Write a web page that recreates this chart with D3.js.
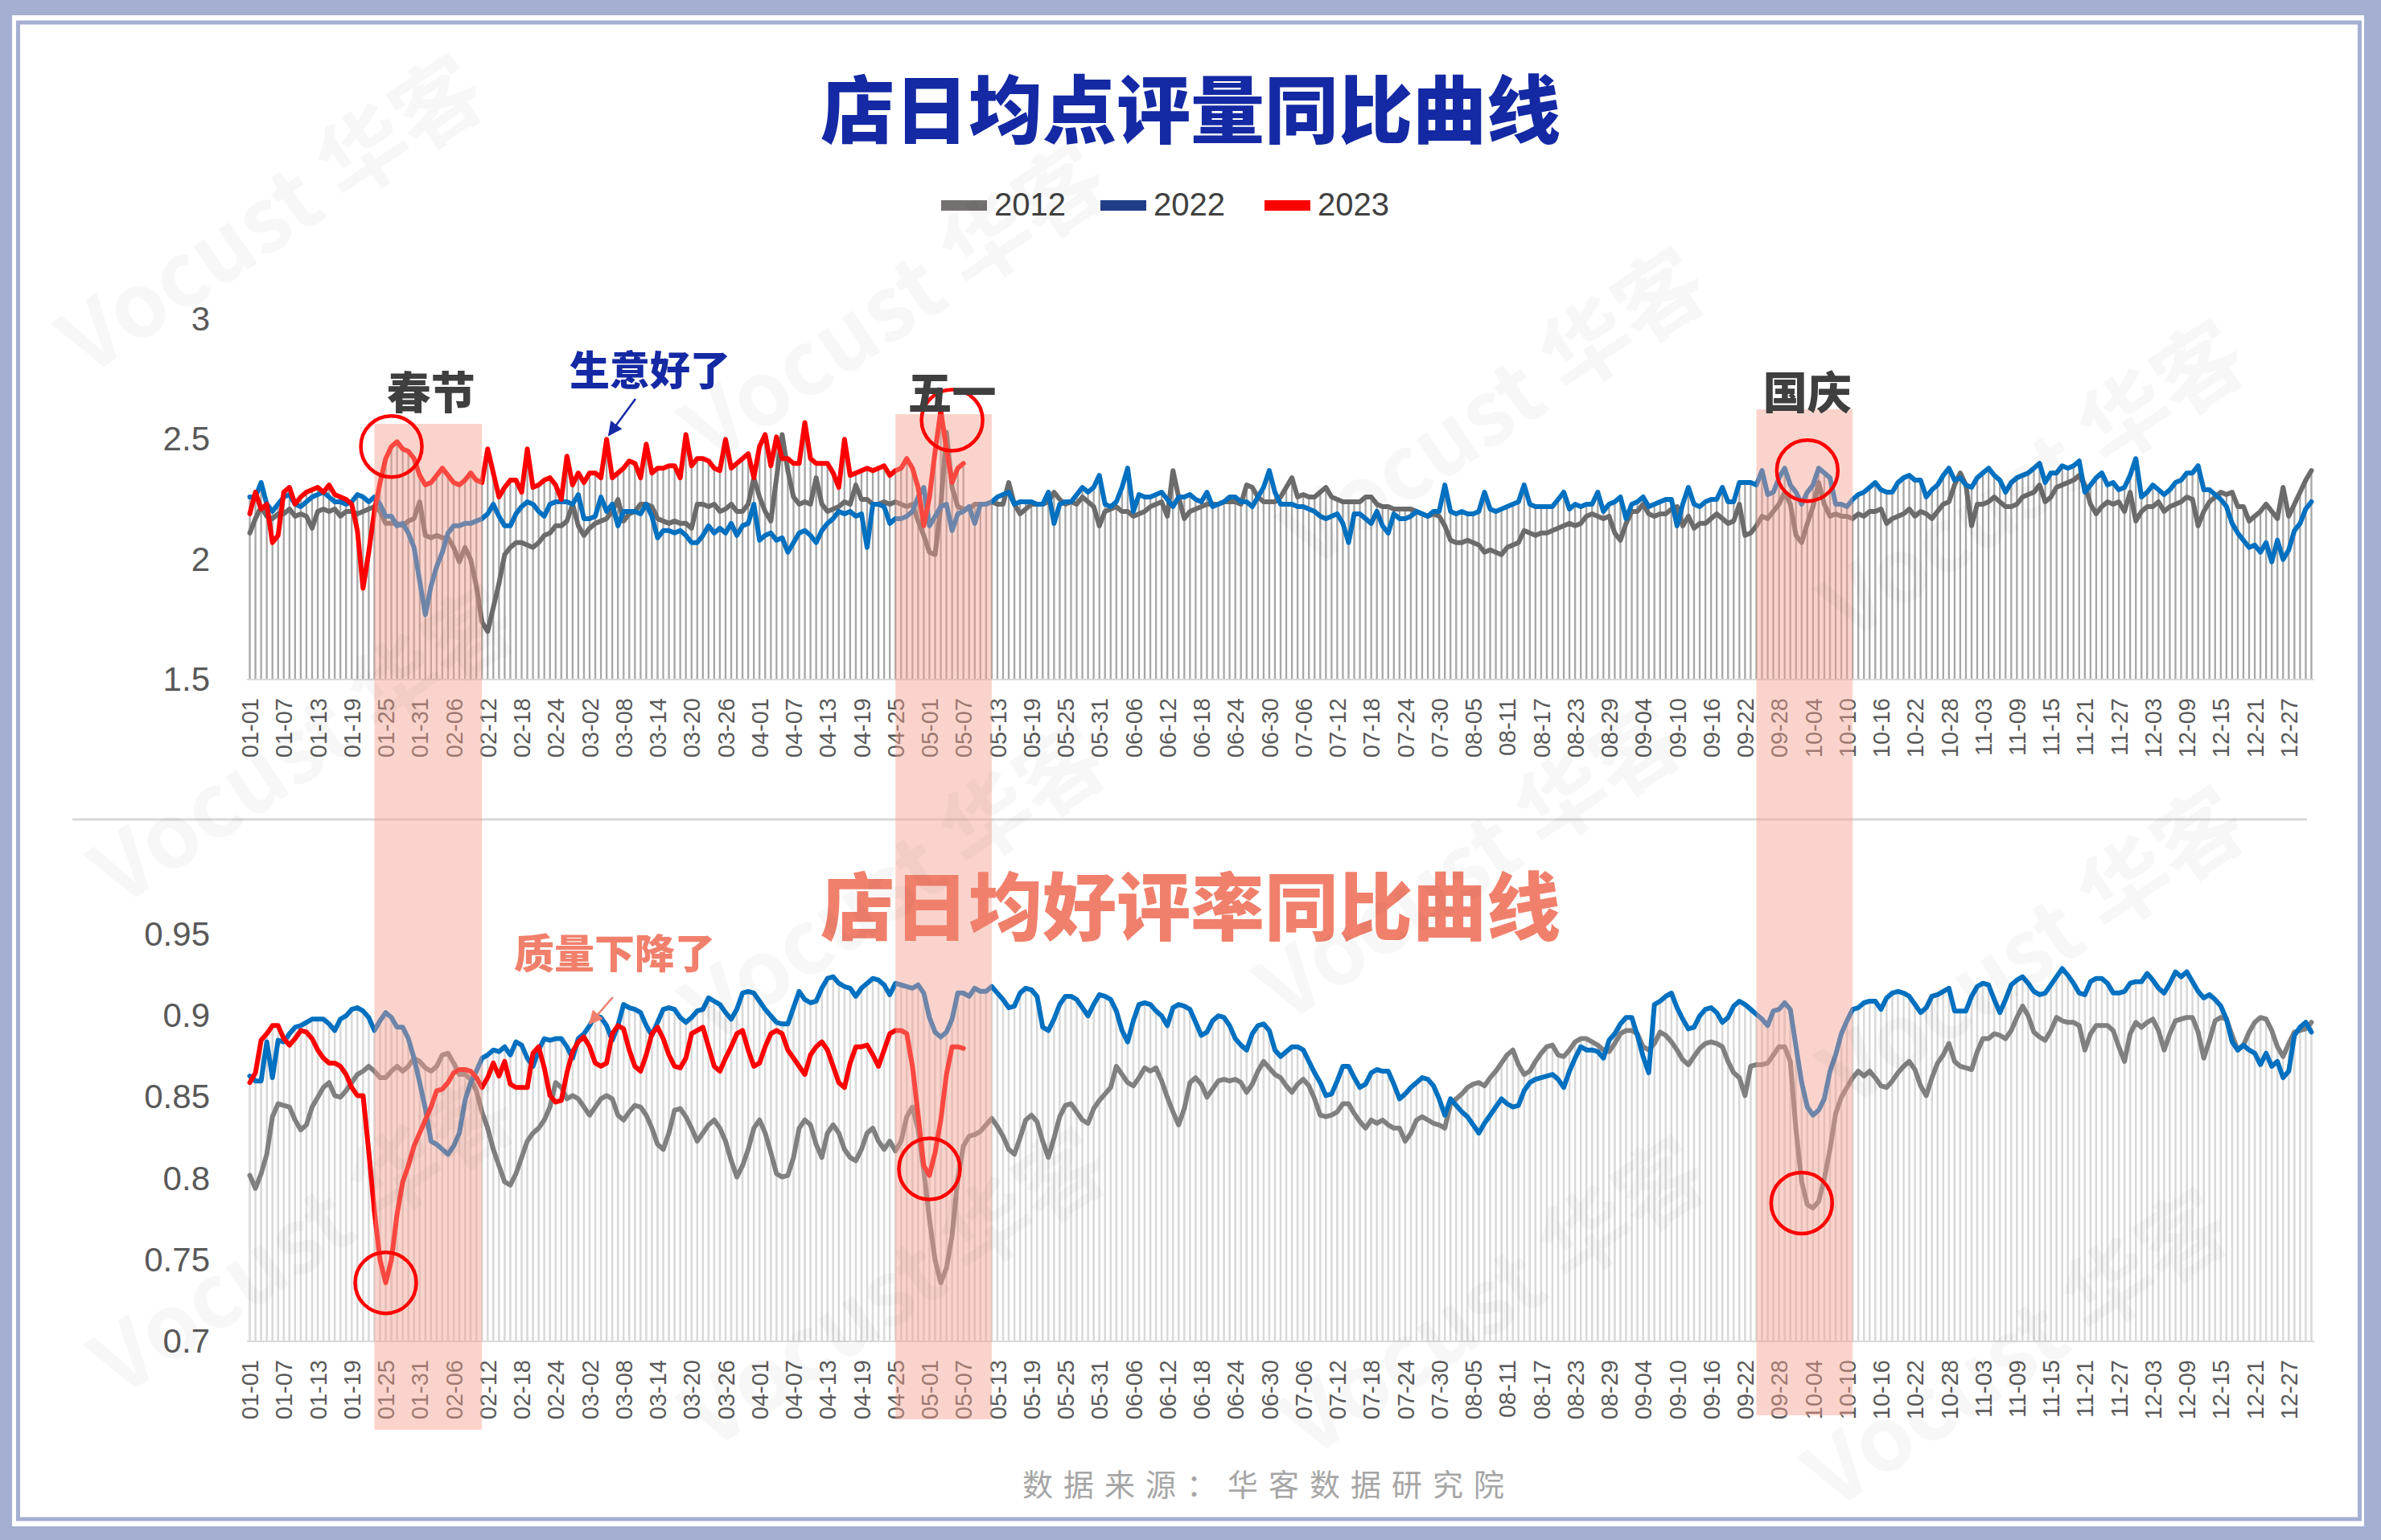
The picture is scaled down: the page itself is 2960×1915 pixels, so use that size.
<!DOCTYPE html>
<html>
<head>
<meta charset="utf-8">
<script src="https://cdn.jsdelivr.net/npm/d3@7"></script>
<style>
  html, body { margin: 0; padding: 0; background: #fff; }
  svg { display: block; }
</style>
</head>
<body>
<svg id="chart" width="2960" height="1915"></svg>
<script>
// ---- data ----
const seriesNames = ['2012', '2022', '2023'];

// 店日均点评量 (top panel)
const reviews2012 = [
  2.11,2.17,2.22,2.18,2.17,2.19,2.19,2.21,2.18,2.19, 2.18,2.13,2.20,2.21,2.20,2.21,2.18,2.20,2.20,2.19,
  2.20,2.21,2.22,2.20,2.15,2.15,2.15,2.14,2.16,2.17, 2.24,2.10,2.09,2.10,2.09,2.09,2.05,1.99,2.05,2.00,
  1.89,1.74,1.70,1.80,1.90,2.02,2.05,2.07,2.07,2.06, 2.05,2.07,2.10,2.11,2.14,2.14,2.16,2.23,2.14,2.10,
  2.13,2.15,2.16,2.17,2.20,2.25,2.16,2.19,2.20,2.23, 2.23,2.22,2.17,2.16,2.15,2.16,2.15,2.15,2.13,2.23,
  2.23,2.22,2.23,2.20,2.21,2.23,2.20,2.20,2.23,2.34, 2.26,2.20,2.16,2.34,2.52,2.37,2.26,2.23,2.24,2.23,
  2.34,2.23,2.20,2.21,2.22,2.24,2.23,2.31,2.25,2.25, 2.23,2.23,2.24,2.23,2.24,2.23,2.22,2.23,2.16,2.10,
  2.03,2.02,2.22,2.53,2.30,2.22,2.21,2.21,2.23,2.23, 2.23,2.24,2.23,2.23,2.32,2.23,2.19,2.21,2.23,2.23,
  2.23,2.24,2.28,2.25,2.23,2.24,2.23,2.26,2.24,2.22, 2.14,2.20,2.21,2.22,2.20,2.20,2.18,2.19,2.20,2.22,
  2.23,2.24,2.18,2.37,2.26,2.17,2.20,2.21,2.22,2.23, 2.23,2.23,2.24,2.24,2.24,2.23,2.31,2.30,2.26,2.24,
  2.24,2.24,2.26,2.30,2.34,2.26,2.27,2.26,2.26,2.28, 2.30,2.26,2.25,2.24,2.24,2.24,2.24,2.26,2.26,2.23,
  2.22,2.22,2.21,2.21,2.21,2.21,2.20,2.19,2.18,2.19, 2.18,2.14,2.08,2.07,2.07,2.08,2.07,2.06,2.03,2.04,
  2.03,2.02,2.05,2.06,2.07,2.12,2.11,2.10,2.11,2.11, 2.12,2.13,2.14,2.15,2.14,2.15,2.18,2.19,2.18,2.17,
  2.18,2.11,2.08,2.15,2.20,2.20,2.23,2.19,2.18,2.19, 2.19,2.21,2.22,2.14,2.18,2.13,2.15,2.15,2.17,2.19,
  2.17,2.15,2.16,2.23,2.10,2.11,2.14,2.18,2.17,2.20, 2.23,2.28,2.23,2.10,2.07,2.15,2.22,2.32,2.23,2.18,
  2.19,2.18,2.18,2.17,2.19,2.18,2.20,2.20,2.21,2.15, 2.17,2.18,2.19,2.21,2.18,2.20,2.19,2.17,2.20,2.23,
  2.24,2.31,2.36,2.31,2.14,2.23,2.23,2.24,2.26,2.24, 2.22,2.22,2.23,2.26,2.27,2.28,2.31,2.24,2.26,2.30,
  2.31,2.32,2.33,2.35,2.31,2.23,2.19,2.22,2.24,2.23, 2.24,2.20,2.28,2.16,2.20,2.22,2.22,2.24,2.20,2.22,
  2.23,2.24,2.26,2.25,2.14,2.20,2.24,2.26,2.28,2.27, 2.28,2.22,2.22,2.16,2.18,2.20,2.23,2.20,2.17,2.30,
  2.18,2.23,2.28,2.33,2.37
];
const reviews2022 = [
  2.26,2.26,2.32,2.23,2.20,2.23,2.26,2.27,2.23,2.22, 2.24,2.26,2.27,2.28,2.26,2.24,2.24,2.23,2.24,2.27,
  2.26,2.24,2.26,2.23,2.18,2.18,2.14,2.15,2.11,2.05, 1.91,1.77,1.89,1.97,2.03,2.11,2.14,2.14,2.15,2.15,
  2.16,2.17,2.19,2.23,2.18,2.14,2.14,2.19,2.22,2.24, 2.23,2.20,2.18,2.23,2.24,2.24,2.24,2.23,2.27,2.17,
  2.17,2.18,2.26,2.20,2.23,2.14,2.20,2.20,2.20,2.19, 2.23,2.18,2.09,2.12,2.12,2.11,2.12,2.10,2.07,2.07,
  2.10,2.14,2.11,2.13,2.11,2.15,2.10,2.14,2.15,2.23, 2.08,2.10,2.11,2.08,2.09,2.03,2.07,2.11,2.12,2.10,
  2.07,2.12,2.15,2.17,2.20,2.19,2.20,2.18,2.19,2.05, 2.23,2.23,2.22,2.15,2.17,2.17,2.18,2.20,2.26,2.30,
  2.14,2.18,2.22,2.23,2.12,2.19,2.20,2.22,2.15,2.23, 2.23,2.24,2.26,2.27,2.28,2.23,2.24,2.24,2.24,2.23,
  2.23,2.28,2.15,2.23,2.24,2.24,2.27,2.30,2.28,2.30, 2.35,2.23,2.22,2.24,2.30,2.38,2.20,2.27,2.26,2.26,
  2.27,2.28,2.25,2.22,2.26,2.26,2.27,2.25,2.24,2.28, 2.22,2.23,2.24,2.26,2.26,2.24,2.24,2.22,2.26,2.30,
  2.37,2.28,2.23,2.23,2.23,2.22,2.22,2.21,2.20,2.18, 2.17,2.18,2.19,2.15,2.07,2.19,2.19,2.17,2.15,2.20,
  2.14,2.11,2.19,2.17,2.17,2.18,2.20,2.19,2.18,2.20, 2.20,2.31,2.20,2.19,2.20,2.19,2.19,2.20,2.28,2.21,
  2.20,2.21,2.22,2.23,2.24,2.31,2.23,2.22,2.22,2.22, 2.22,2.25,2.28,2.21,2.23,2.22,2.23,2.23,2.28,2.20,
  2.23,2.24,2.26,2.17,2.23,2.24,2.26,2.22,2.23,2.24, 2.25,2.25,2.14,2.23,2.30,2.23,2.22,2.24,2.25,2.25,
  2.30,2.24,2.24,2.32,2.32,2.32,2.31,2.37,2.27,2.28, 2.34,2.38,2.31,2.28,2.23,2.28,2.31,2.38,2.36,2.34,
  2.23,2.23,2.22,2.25,2.27,2.28,2.30,2.32,2.29,2.28, 2.28,2.32,2.34,2.35,2.33,2.33,2.26,2.29,2.31,2.35,
  2.38,2.33,2.34,2.31,2.30,2.34,2.36,2.38,2.35,2.33, 2.28,2.32,2.34,2.35,2.36,2.38,2.40,2.32,2.36,2.36,
  2.39,2.38,2.39,2.41,2.28,2.31,2.34,2.36,2.31,2.32, 2.29,2.30,2.35,2.42,2.26,2.28,2.31,2.29,2.27,2.29,
  2.32,2.33,2.36,2.36,2.39,2.29,2.29,2.27,2.25,2.22, 2.15,2.11,2.08,2.05,2.06,2.03,2.07,1.99,2.08,2.00,
  2.04,2.12,2.15,2.21,2.24
];
const reviews2023 = [
  2.19,2.28,2.21,2.23,2.07,2.10,2.28,2.30,2.23,2.26, 2.28,2.29,2.30,2.28,2.31,2.27,2.26,2.25,2.23,2.12,
  1.88,2.03,2.20,2.32,2.42,2.47,2.49,2.46,2.45,2.42, 2.35,2.31,2.32,2.35,2.38,2.35,2.32,2.31,2.33,2.36,
  2.33,2.32,2.46,2.36,2.26,2.30,2.33,2.33,2.28,2.46, 2.30,2.31,2.33,2.34,2.31,2.25,2.43,2.31,2.36,2.32,
  2.36,2.36,2.34,2.50,2.34,2.36,2.38,2.41,2.40,2.34, 2.48,2.36,2.38,2.38,2.39,2.39,2.34,2.52,2.39,2.42,
  2.42,2.41,2.38,2.37,2.50,2.38,2.40,2.42,2.44,2.34, 2.47,2.52,2.39,2.51,2.42,2.42,2.40,2.40,2.57,2.42,
  2.40,2.40,2.40,2.36,2.30,2.50,2.35,2.36,2.37,2.38, 2.37,2.38,2.39,2.35,2.37,2.38,2.42,2.38,2.30,2.14,
  2.26,2.45,2.62,2.46,2.32,2.38,2.40
];

// 店日均好评率 (bottom panel)
const rate2012 = [
  0.802,0.794,0.803,0.815,0.838,0.846,0.845,0.844,0.836,0.830, 0.833,0.844,0.850,0.856,0.859,0.851,0.850,0.854,0.859,0.864,
  0.866,0.869,0.866,0.862,0.862,0.866,0.869,0.866,0.869,0.874, 0.872,0.868,0.866,0.869,0.876,0.877,0.871,0.864,0.864,0.861,
  0.854,0.841,0.831,0.818,0.808,0.798,0.796,0.803,0.813,0.823, 0.828,0.831,0.836,0.844,0.859,0.856,0.849,0.851,0.849,0.844,
  0.839,0.844,0.849,0.851,0.849,0.839,0.836,0.841,0.845,0.844, 0.839,0.831,0.821,0.818,0.828,0.842,0.843,0.838,0.831,0.823,
  0.828,0.833,0.836,0.831,0.823,0.811,0.801,0.808,0.818,0.831, 0.836,0.828,0.816,0.803,0.801,0.802,0.813,0.831,0.836,0.833,
  0.821,0.813,0.828,0.833,0.828,0.818,0.813,0.811,0.818,0.828, 0.831,0.823,0.818,0.823,0.817,0.823,0.838,0.844,0.830,0.805,
  0.775,0.750,0.736,0.745,0.765,0.800,0.820,0.826,0.827,0.829, 0.833,0.837,0.832,0.826,0.818,0.815,0.825,0.836,0.839,0.835,
  0.823,0.813,0.825,0.838,0.845,0.846,0.841,0.836,0.834,0.843, 0.848,0.852,0.856,0.869,0.864,0.859,0.857,0.862,0.868,0.866,
  0.868,0.860,0.850,0.841,0.833,0.843,0.859,0.862,0.858,0.850, 0.855,0.860,0.861,0.860,0.861,0.859,0.853,0.858,0.866,0.872,
  0.868,0.864,0.862,0.857,0.853,0.858,0.861,0.857,0.849,0.839, 0.838,0.839,0.841,0.846,0.846,0.840,0.835,0.831,0.836,0.834,
  0.836,0.833,0.831,0.831,0.823,0.828,0.836,0.838,0.836,0.834, 0.833,0.831,0.846,0.849,0.852,0.856,0.858,0.859,0.857,0.862,
  0.866,0.871,0.876,0.879,0.870,0.864,0.866,0.872,0.877,0.881, 0.882,0.876,0.875,0.879,0.884,0.886,0.886,0.884,0.882,0.879,
  0.878,0.883,0.889,0.891,0.891,0.889,0.881,0.879,0.883,0.890, 0.888,0.884,0.879,0.873,0.870,0.875,0.880,0.883,0.884,0.883,
  0.881,0.872,0.865,0.862,0.851,0.869,0.870,0.870,0.871,0.876, 0.881,0.881,0.872,0.830,0.798,0.784,0.782,0.786,0.800,0.818,
  0.840,0.850,0.856,0.862,0.866,0.863,0.866,0.862,0.857,0.856, 0.860,0.865,0.869,0.872,0.867,0.857,0.851,0.862,0.871,0.876,
  0.883,0.872,0.869,0.868,0.867,0.878,0.886,0.886,0.889,0.888, 0.886,0.891,0.899,0.906,0.900,0.890,0.887,0.885,0.891,0.899,
  0.897,0.896,0.896,0.894,0.879,0.889,0.894,0.894,0.894,0.891, 0.881,0.872,0.889,0.896,0.893,0.896,0.898,0.891,0.879,0.889,
  0.897,0.898,0.899,0.899,0.890,0.874,0.885,0.897,0.899,0.898, 0.888,0.879,0.882,0.890,0.896,0.899,0.898,0.891,0.881,0.875,
  0.883,0.890,0.891,0.892,0.896
];
const rate2022 = [
  0.863,0.860,0.860,0.884,0.862,0.885,0.884,0.889,0.893,0.894, 0.896,0.898,0.898,0.898,0.895,0.891,0.898,0.900,0.904,0.905,
  0.903,0.899,0.891,0.897,0.902,0.899,0.893,0.893,0.886,0.874, 0.859,0.843,0.823,0.821,0.818,0.815,0.820,0.828,0.848,0.859,
  0.866,0.874,0.876,0.879,0.878,0.881,0.876,0.884,0.882,0.874, 0.869,0.879,0.886,0.885,0.886,0.886,0.881,0.874,0.886,0.889,
  0.894,0.900,0.899,0.894,0.885,0.894,0.907,0.905,0.904,0.902, 0.894,0.888,0.896,0.904,0.905,0.904,0.899,0.896,0.899,0.903,
  0.904,0.911,0.909,0.907,0.902,0.898,0.904,0.914,0.915,0.914, 0.909,0.904,0.900,0.896,0.895,0.895,0.905,0.915,0.910,0.908,
  0.909,0.917,0.923,0.924,0.920,0.918,0.917,0.912,0.917,0.920, 0.923,0.922,0.919,0.913,0.920,0.919,0.918,0.917,0.919,0.914,
  0.899,0.890,0.887,0.890,0.898,0.914,0.914,0.912,0.917,0.915, 0.915,0.918,0.914,0.910,0.905,0.906,0.914,0.917,0.916,0.912,
  0.893,0.891,0.898,0.907,0.912,0.912,0.910,0.905,0.900,0.907, 0.913,0.912,0.910,0.903,0.891,0.884,0.897,0.907,0.908,0.907,
  0.903,0.900,0.894,0.905,0.907,0.906,0.904,0.896,0.888,0.890, 0.897,0.900,0.899,0.894,0.886,0.882,0.879,0.889,0.894,0.895,
  0.891,0.879,0.875,0.878,0.881,0.881,0.879,0.872,0.865,0.859, 0.851,0.852,0.860,0.869,0.869,0.862,0.856,0.858,0.865,0.867,
  0.866,0.866,0.858,0.849,0.852,0.856,0.859,0.862,0.861,0.857, 0.849,0.839,0.849,0.845,0.841,0.838,0.833,0.828,0.834,0.839,
  0.844,0.849,0.846,0.844,0.845,0.854,0.859,0.861,0.862,0.863, 0.864,0.861,0.856,0.866,0.874,0.881,0.879,0.879,0.878,0.874,
  0.885,0.889,0.895,0.899,0.899,0.888,0.875,0.865,0.907,0.909, 0.912,0.914,0.905,0.898,0.892,0.893,0.900,0.904,0.905,0.902,
  0.896,0.899,0.906,0.909,0.907,0.904,0.901,0.898,0.894,0.903, 0.904,0.908,0.904,0.881,0.859,0.844,0.839,0.842,0.849,0.866,
  0.876,0.889,0.897,0.904,0.905,0.908,0.909,0.909,0.904,0.911, 0.914,0.915,0.914,0.912,0.907,0.902,0.905,0.912,0.913,0.915,
  0.917,0.903,0.903,0.903,0.912,0.918,0.920,0.919,0.910,0.902, 0.910,0.919,0.922,0.924,0.920,0.915,0.913,0.914,0.919,0.924,
  0.929,0.925,0.920,0.914,0.913,0.921,0.923,0.923,0.920,0.914, 0.914,0.915,0.920,0.921,0.921,0.926,0.922,0.917,0.914,0.920,
  0.927,0.924,0.927,0.921,0.915,0.911,0.913,0.910,0.906,0.898, 0.884,0.879,0.882,0.879,0.877,0.870,0.877,0.869,0.872,0.862,
  0.866,0.888,0.893,0.896,0.890
];
const rate2023 = [
  0.859,0.865,0.885,0.889,0.894,0.894,0.886,0.882,0.886,0.891, 0.890,0.886,0.879,0.874,0.871,0.871,0.869,0.864,0.856,0.851,
  0.851,0.817,0.780,0.750,0.736,0.750,0.778,0.798,0.808,0.820, 0.828,0.836,0.844,0.854,0.855,0.859,0.865,0.867,0.867,0.866,
  0.862,0.856,0.862,0.871,0.863,0.872,0.858,0.856,0.856,0.856, 0.877,0.881,0.868,0.851,0.847,0.848,0.865,0.878,0.884,0.887,
  0.881,0.871,0.869,0.871,0.889,0.894,0.892,0.879,0.869,0.866, 0.876,0.889,0.893,0.886,0.876,0.869,0.868,0.874,0.889,0.891,
  0.893,0.881,0.869,0.866,0.874,0.881,0.889,0.891,0.879,0.869, 0.871,0.881,0.889,0.891,0.889,0.879,0.874,0.869,0.864,0.876,
  0.881,0.884,0.879,0.869,0.859,0.856,0.871,0.881,0.881,0.882, 0.876,0.869,0.879,0.889,0.891,0.891,0.889,0.869,0.839,0.808,
  0.802,0.816,0.836,0.864,0.881,0.881,0.880
];

const topTicks = [1.5, 2, 2.5, 3];
const bottomTicks = [0.7, 0.75, 0.8, 0.85, 0.9, 0.95];
const holidays = [['01-23', '02-11'], ['04-25', '05-12'], ['09-24', '10-11']];
const holidayLabels = [['春节', '02-02'], ['五一', '05-05'], ['国庆', '10-03']];
const topCircles = [['01-26', 2.47], ['05-05', 2.58], ['10-03', 2.37]];
const bottomCircles = [['01-25', 0.736], ['05-01', 0.806], ['10-02', 0.785]];

// every day of the year as the category axis
const dates = d3.timeDay.range(new Date(2023, 0, 1), new Date(2024, 0, 1)).map(d3.timeFormat('%m-%d'));

// ---- drawing ----
const svg = d3.select('#chart');
const W = 2960, H = 1915;
const frameColor = '#a5afd2';
const lineColors = { '2012': '#6e6e6e', '2022': '#0070c0', '2023': '#ff0000' };
const textGray = '#595959';
const latin = '"Liberation Sans", Arial, sans-serif';
const cjk = '"Noto Sans CJK SC", sans-serif';

// frame
svg.append('rect').attr('width', W).attr('height', H).attr('fill', frameColor);
svg.append('rect').attr('x', 15).attr('y', 19).attr('width', 2924).attr('height', 1879).attr('fill', '#fff');
svg.append('rect').attr('x', 22.5).attr('y', 28).attr('width', 2911).attr('height', 1861)
  .attr('fill', '#fff').attr('stroke', frameColor).attr('stroke-width', 5);

const x = d3.scalePoint().domain(dates).range([307, 2877]).padding(0.5);
const yTop = d3.scaleLinear().domain([1.5, 3]).range([845, 397]);
const yBot = d3.scaleLinear().domain([0.7, 0.95]).range([1668, 1162]);

function drawPanel(y, series, ticks, barColor, barW, grayColor) {
  const g = svg.append('g');
  const base = y.range()[0];
  // columns: highest value of the day
  g.append('g').selectAll('rect')
    .data(dates)
    .join('rect')
    .attr('x', d => x(d) - barW / 2)
    .attr('width', barW)
    .attr('y', (d, i) => y(d3.max(series, s => s.values[i])))
    .attr('height', (d, i) => base - y(d3.max(series, s => s.values[i])))
    .attr('fill', barColor);

  g.append('line').attr('x1', 307).attr('x2', 2877).attr('y1', base).attr('y2', base)
    .attr('stroke', '#d9d9d9').attr('stroke-width', 2);

  const line = d3.line().x((v, i) => x(dates[i])).y(v => y(v));
  series.forEach(s => {
    g.append('path')
      .datum(s.values)
      .attr('d', line)
      .attr('fill', 'none')
      .attr('stroke', s.name === '2012' ? grayColor : lineColors[s.name])
      .attr('stroke-width', 6)
      .attr('stroke-linejoin', 'round')
      .attr('stroke-linecap', 'round');
  });

  const yAxis = g.append('g').attr('transform', 'translate(307,0)')
    .call(d3.axisLeft(y).tickValues(ticks).tickSize(0).tickPadding(46).tickFormat(d3.format('')));
  yAxis.select('.domain').remove();
  yAxis.selectAll('text').attr('fill', textGray).attr('font-size', 42).attr('font-family', latin);

  const xAxis = g.append('g').attr('transform', `translate(0,${base})`)
    .call(d3.axisBottom(x).tickValues(dates.filter((d, i) => i % 6 === 0)).tickSize(0));
  xAxis.select('.domain').remove();
  xAxis.selectAll('text')
    .attr('transform', 'rotate(-90)')
    .attr('x', -23).attr('y', 0).attr('dy', '0.35em')
    .style('text-anchor', 'end')
    .attr('fill', textGray).attr('font-size', 29).attr('font-family', latin);
}

drawPanel(yTop, [
  { name: '2012', values: reviews2012 },
  { name: '2022', values: reviews2022 },
  { name: '2023', values: reviews2023 }
], topTicks, '#a6a6a6', 2.3, '#6b6b6b');

drawPanel(yBot, [
  { name: '2012', values: rate2012 },
  { name: '2022', values: rate2022 },
  { name: '2023', values: rate2023 }
], bottomTicks, '#d9d9d9', 2.6, '#808080');

// separator between the two panels
svg.append('line').attr('x1', 90).attr('x2', 2868).attr('y1', 1019).attr('y2', 1019)
  .attr('stroke', '#d9d9d9').attr('stroke-width', 3);

// holiday bands
const bandTops = [527, 515, 509];
const bandBottoms = [1778, 1765, 1760];
svg.append('g').selectAll('rect')
  .data(holidays)
  .join('rect')
  .attr('x', d => x(d[0]))
  .attr('width', d => x(d[1]) - x(d[0]))
  .attr('y', (d, i) => bandTops[i])
  .attr('height', (d, i) => bandBottoms[i] - bandTops[i])
  .attr('fill', '#f3a08f')
  .attr('opacity', 0.45);

// red rings
svg.append('g').selectAll('circle')
  .data(topCircles.map(d => [d[0], yTop(d[1])]).concat(bottomCircles.map(d => [d[0], yBot(d[1])])))
  .join('circle')
  .attr('cx', d => x(d[0]))
  .attr('cy', d => d[1])
  .attr('r', 38)
  .attr('fill', 'none')
  .attr('stroke', '#ff0000')
  .attr('stroke-width', 4.5);

// holiday names
svg.append('g').selectAll('text')
  .data(holidayLabels)
  .join('text')
  .attr('x', d => x(d[1]))
  .attr('y', 508)
  .attr('text-anchor', 'middle')
  .attr('font-family', cjk).attr('font-weight', 900).attr('font-size', 55)
  .attr('fill', '#3f3f3f')
  .text(d => d[0]);

// titles
svg.append('text').attr('x', 1480).attr('y', 171).attr('text-anchor', 'middle')
  .attr('font-family', cjk).attr('font-weight', 900).attr('font-size', 92)
  .attr('fill', '#1429a3').text('店日均点评量同比曲线');
svg.append('text').attr('x', 1480).attr('y', 1162).attr('text-anchor', 'middle')
  .attr('font-family', cjk).attr('font-weight', 900).attr('font-size', 92)
  .attr('fill', '#f0806c').text('店日均好评率同比曲线');

// callouts with arrows
const defs = svg.append('defs');
[['headBlue', '#1429a3'], ['headSalmon', '#f0806c']].forEach(([id, c]) => {
  defs.append('marker').attr('id', id).attr('viewBox', '0 0 10 10')
    .attr('refX', 9).attr('refY', 5).attr('markerWidth', 8).attr('markerHeight', 7)
    .attr('markerUnits', 'strokeWidth').attr('orient', 'auto')
    .append('path').attr('d', 'M0,0 L10,5 L0,10 Z').attr('fill', c);
});
svg.append('text').attr('x', 808).attr('y', 479).attr('text-anchor', 'middle')
  .attr('font-family', cjk).attr('font-weight', 900).attr('font-size', 50)
  .attr('fill', '#1429a3').text('生意好了');
svg.append('line').attr('x1', 790).attr('y1', 496).attr('x2', 757).attr('y2', 541)
  .attr('stroke', '#1429a3').attr('stroke-width', 2.5).attr('marker-end', 'url(#headBlue)');
svg.append('text').attr('x', 764).attr('y', 1204).attr('text-anchor', 'middle')
  .attr('font-family', cjk).attr('font-weight', 900).attr('font-size', 50)
  .attr('fill', '#f0806c').text('质量下降了');
svg.append('line').attr('x1', 762).attr('y1', 1240).attr('x2', 733).attr('y2', 1273)
  .attr('stroke', '#f0806c').attr('stroke-width', 2.5).attr('marker-end', 'url(#headSalmon)');

// legend
const legendColors = ['#767171', '#203f88', '#ff0000'];
const legendX = [1170, 1368, 1572];
const legend = svg.append('g').selectAll('g')
  .data(seriesNames)
  .join('g')
  .attr('transform', (d, i) => `translate(${legendX[i]},0)`);
legend.append('rect').attr('x', 0).attr('y', 249).attr('width', 57).attr('height', 13)
  .attr('fill', (d, i) => legendColors[i]);
legend.append('text').attr('x', 66).attr('y', 268)
  .attr('font-family', latin).attr('font-size', 40).attr('fill', '#404040')
  .text(d => d);

// source line
svg.append('text').attr('x', 1577).attr('y', 1860).attr('text-anchor', 'middle')
  .attr('font-family', cjk).attr('font-size', 38).attr('letter-spacing', 13)
  .attr('fill', '#a6a6a6').text('数据来源：华客数据研究院');

// faint watermark
const marks = [[360, 300], [1135, 410], [1880, 540], [2550, 630],
               [400, 960], [1135, 1130], [1850, 1105], [2550, 1210],
               [400, 1570], [1135, 1635], [1880, 1645], [2530, 1710]];
svg.append('g').selectAll('text')
  .data(marks)
  .join('text')
  .attr('transform', d => `translate(${d[0]},${d[1]}) rotate(-34)`)
  .attr('text-anchor', 'middle')
  .attr('font-family', cjk).attr('font-weight', 700).attr('font-size', 110)
  .attr('fill', '#000').attr('opacity', 0.028)
  .text('Vocust 华客');
</script>
</body>
</html>
